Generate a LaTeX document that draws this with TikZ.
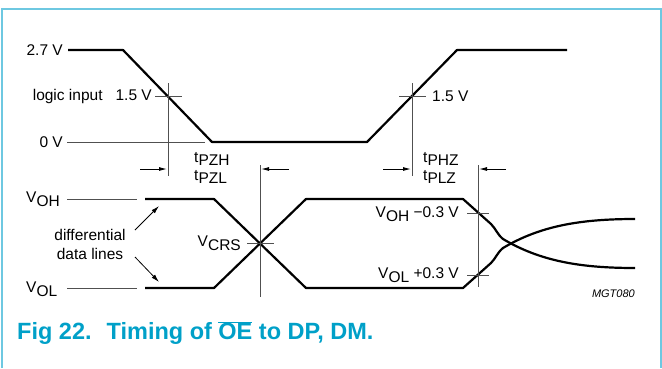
\documentclass[tikz,border=0pt]{standalone}
\usepackage{fontspec}
\setmainfont{Liberation Sans}
\usetikzlibrary{arrows.meta}
\definecolor{frameblue}{RGB}{110,200,225}
\definecolor{titleblue}{RGB}{0,160,200}
\definecolor{thingray}{RGB}{80,80,80}
\newcommand{\sub}[1]{\raisebox{-0.45ex}{#1}}
\tikzset{
  wave/.style={line width=2.2pt, line join=round},
  thin/.style={line width=0.9pt, thingray},
  lbl/.style={inner sep=0pt, font=\fontsize{15.5}{18}\selectfont},
  dimarrow/.style={line width=0.9pt, -{Latex[length=8pt,width=4pt]}},
  callout/.style={line width=0.8pt, -{Latex[length=8pt,width=4.5pt]}},
}
\begin{document}
\begin{tikzpicture}[x=1pt,y=-1pt]
\useasboundingbox (0,0) rectangle (662,368);
% frame
\draw[frameblue, line width=2pt] (1.5,368) -- (1.5,8.5) -- (660.5,8.5) -- (660.5,368);

% ---------- logic input ----------
\node[lbl, anchor=east] (l27) at (63,50) {2.7 V};
\node[lbl, anchor=east] (l0) at (63,142) {0 V};
\node[lbl, anchor=east] (lli) at (152,96) {logic input\hspace{13pt}1.5 V};
\node[lbl, anchor=west] (l15b) at (432,96) {1.5 V};
\coordinate (a0) at (68,50);
\coordinate (a1) at (123,50);
\coordinate (a2) at (212,142);
\coordinate (a3) at (367,142);
\coordinate (a4) at (457,50);
\coordinate (a5) at (567,50);
\draw[wave] (a0) -- (a1) -- (a2) -- (a3) -- (a4) -- (a5);
\coordinate (z0) at (67,142);
\coordinate (z1) at (205,142);
\draw[thin] (z0) -- (z1);
% crossing marks
\coordinate (c1t) at (168,83);
\coordinate (c1b) at (168,176);
\draw[thin] (c1t) -- (c1b);
\coordinate (h1l) at (155,96);
\coordinate (h1r) at (182,96);
\draw[thin] (h1l) -- (h1r);
\coordinate (c2t) at (412,83);
\coordinate (c2b) at (412,176);
\draw[thin] (c2t) -- (c2b);
\coordinate (h2l) at (399,96);
\coordinate (h2r) at (426,96);
\draw[thin] (h2l) -- (h2r);

% dimension arrows
\coordinate (d1s) at (140,169);
\coordinate (d1e) at (167,169);
\draw[dimarrow] (d1s) -- (d1e);
\coordinate (d2s) at (289,169);
\coordinate (d2e) at (261,169);
\draw[dimarrow] (d2s) -- (d2e);
\coordinate (d3s) at (383,169);
\coordinate (d3e) at (411,169);
\draw[dimarrow] (d3s) -- (d3e);
\coordinate (d4s) at (506,169);
\coordinate (d4e) at (479,169);
\draw[dimarrow] (d4s) -- (d4e);

\node[lbl, anchor=north west, align=left] (tpz) at (194,152) {t\sub{PZH}\\[0pt]t\sub{PZL}};
\node[lbl, anchor=north west, align=left] (tph) at (423,152) {t\sub{PHZ}\\[0pt]t\sub{PLZ}};

% ---------- differential lines ----------
\node[lbl, anchor=west] (voh) at (26,199) {V\sub{OH}};
\node[lbl, anchor=west] (vol) at (26,289) {V\sub{OL}};
\coordinate (t0) at (67,199);
\coordinate (t1) at (137,199);
\draw[thin] (t0) -- (t1);
\coordinate (b0) at (67,288);
\coordinate (b1) at (137,288);
\draw[thin] (b0) -- (b1);

\coordinate (p0) at (145,199);
\coordinate (p1) at (214,199);
\coordinate (p2) at (306,288);
\coordinate (p3) at (463,288);
\coordinate (p4) at (491,263);
\coordinate (p5) at (503,248);
\coordinate (p6) at (635,219);
\draw[wave] (p0) -- (p1) -- (p2) -- (p3) -- (p4) .. controls (496,258) and (497,253) .. (p5) .. controls (540,226) and (580,219) .. (p6);

\coordinate (q0) at (145,288);
\coordinate (q1) at (214,288);
\coordinate (q2) at (306,199);
\coordinate (q3) at (463,199);
\coordinate (q4) at (491,224);
\coordinate (q5) at (503,239);
\coordinate (q6) at (635,268);
\draw[wave] (q0) -- (q1) -- (q2) -- (q3) -- (q4) .. controls (496,229) and (497,234) .. (q5) .. controls (540,261) and (580,268) .. (q6);

\node[lbl, align=center] (dl) at (90,244) {differential\\[1pt]data lines};
\coordinate (ca) at (135,230);
\coordinate (cb) at (159,206);
\draw[callout] (ca) -- (cb);
\coordinate (cc) at (135,257);
\coordinate (cd) at (159,282);
\draw[callout] (cc) -- (cd);

% VCRS
\node[lbl, anchor=east] (vcrs) at (241,243) {V\sub{CRS}};
\coordinate (v1t) at (260,165);
\coordinate (v1b) at (260,297);
\draw[thin] (v1t) -- (v1b);
\coordinate (v1l) at (247,243);
\coordinate (v1r) at (274,243);
\draw[thin] (v1l) -- (v1r);

% right marks
\coordinate (v2t) at (478,165);
\coordinate (v2b) at (478,287);
\draw[thin] (v2t) -- (v2b);
\coordinate (m1l) at (467,213);
\coordinate (m1r) at (489,213);
\draw[thin] (m1l) -- (m1r);
\coordinate (m2l) at (467,275);
\coordinate (m2r) at (489,275);
\draw[thin] (m2l) -- (m2r);
\node[lbl, anchor=east] (vohm) at (459,214) {V\sub{OH} \raisebox{0.1ex}{\textminus0.3 V}};
\node[lbl, anchor=east] (volp) at (459,275) {V\sub{OL} \raisebox{0.1ex}{+0.3 V}};

\node[inner sep=0pt, anchor=east, font=\fontsize{11}{13}\selectfont\itshape] (mgt) at (635,294) {MGT080};

% title
\node[inner sep=0pt, anchor=west, text=titleblue, font=\fontsize{23.5}{27}\selectfont\bfseries] (title) at (17,333) {Fig 22.\hspace{15pt}Timing of $\overline{\mbox{OE}}$ to DP, DM.};
\end{tikzpicture}
\end{document}
